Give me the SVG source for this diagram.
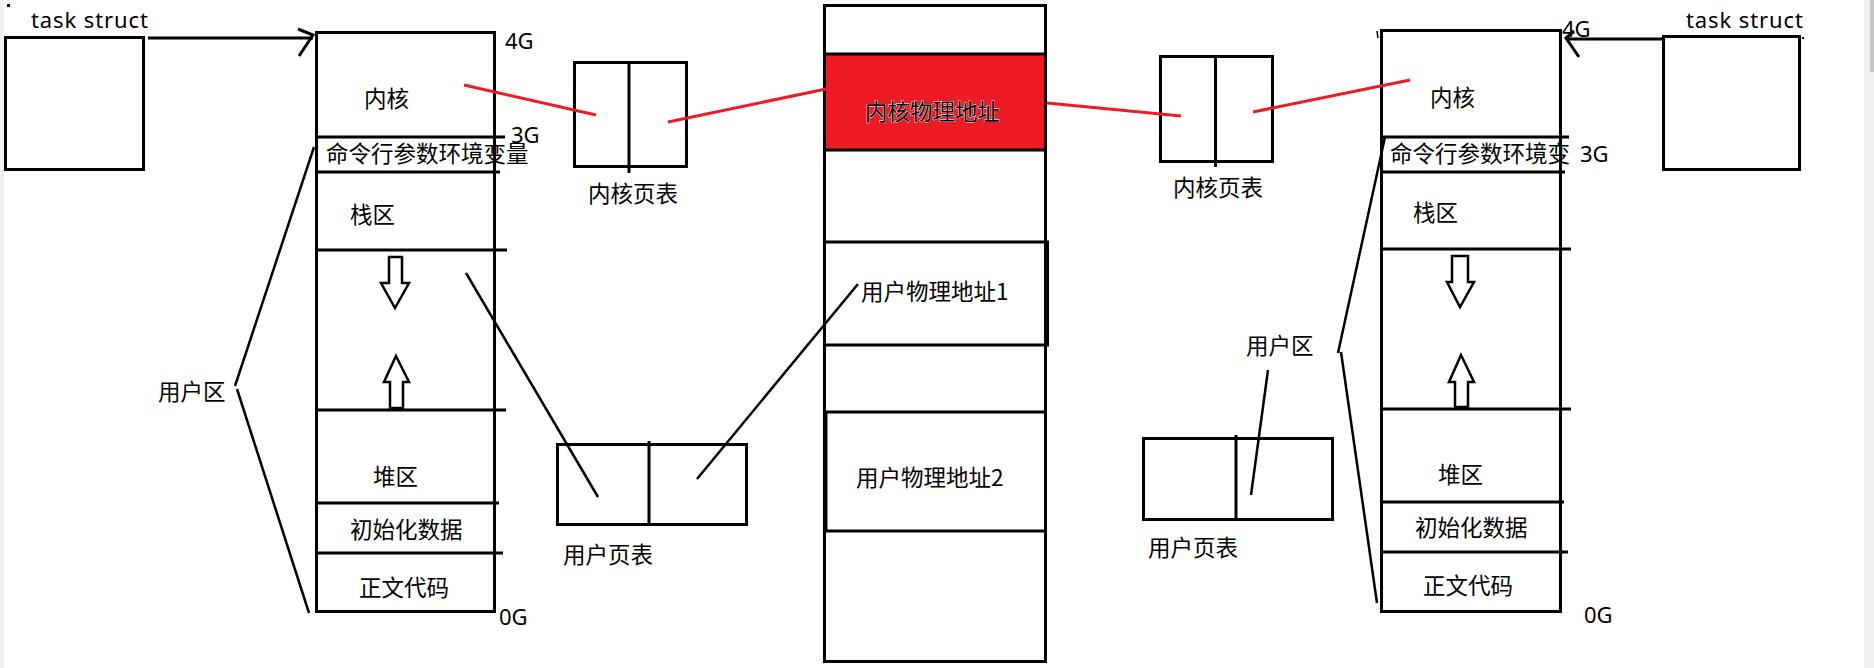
<svg xmlns="http://www.w3.org/2000/svg" width="1874" height="668" viewBox="0 0 1874 668">
<style>
.bx{fill:none;stroke:#000;stroke-width:3}
.ln{stroke:#000;stroke-width:3;fill:none}
.th{stroke:#000;stroke-width:2.5;fill:none}
.rd{stroke:#ED1C24;stroke-width:3;fill:none}
.ar{fill:#fff;stroke:#000;stroke-width:2.5}
.t{font-family:"Noto Sans CJK SC","Noto Sans",sans-serif;font-size:22.5px;fill:#000}
.l{font-family:"Noto Sans","Open Sans",sans-serif;font-size:22px;fill:#000}
</style>
<rect width="1874" height="668" fill="#fff"/>
<rect x="0" y="0" width="4" height="668" fill="#f0f0f0"/>
<rect x="1864" y="0" width="10" height="668" fill="#f0f0f0"/>
<rect x="1870" y="0" width="4" height="72" fill="#c8c8c8"/>
<rect x="7" y="4" width="3" height="3" fill="#000"/>

<g id="task-left">
<rect class="bx" x="5.5" y="37.5" width="138" height="132"/>
<text class="l" x="31" y="28" textLength="117" lengthAdjust="spacing">task struct</text>
</g>

<g id="mem-left">
<rect class="bx" x="316.5" y="32.5" width="178" height="579"/>
<line class="ln" x1="316" y1="137" x2="505" y2="137"/>
<line class="ln" x1="316" y1="172" x2="500" y2="172"/>
<line class="ln" x1="316" y1="250" x2="507" y2="250"/>
<line class="ln" x1="316" y1="410" x2="506" y2="410"/>
<line class="ln" x1="316" y1="503" x2="499" y2="503"/>
<line class="ln" x1="316" y1="553" x2="503" y2="553"/>
<polygon class="ar" points="389,257 402,257 402,283 409,283 395,308 381,283 389,283"/>
<polygon class="ar" points="396,356 409,382 403,382 403,408 390,408 390,382 384,382"/>
<text class="l" x="505" y="49">4G</text>
<text class="l" x="511" y="143">3G</text>
<text class="l" x="499" y="625">0G</text>
<text class="t" x="364" y="107">内核</text>
<text class="t" x="326" y="162">命令行参数环境变量</text>
<text class="t" x="350" y="223">栈区</text>
<text class="t" x="373" y="485">堆区</text>
<text class="t" x="350" y="538">初始化数据</text>
<text class="t" x="359" y="596">正文代码</text>
<text class="t" x="158" y="400">用户区</text>
</g>

<g id="kpt-left">
<rect class="bx" x="574.5" y="62.5" width="112" height="104"/>
<line class="ln" x1="629" y1="61" x2="629" y2="173"/>
<text class="t" x="588" y="202">内核页表</text>
</g>

<g id="upt-left">
<rect class="bx" x="557.5" y="444.5" width="189" height="80"/>
<line class="ln" x1="649" y1="441" x2="649" y2="526"/>
<text class="t" x="563" y="563">用户页表</text>
</g>

<g id="phys">
<rect x="826" y="55" width="219" height="94" fill="#ED1C24"/>
<rect class="bx" x="824.5" y="5.5" width="221" height="656"/>
<line class="ln" x1="824" y1="54" x2="1046" y2="54"/>
<line class="ln" x1="824" y1="150" x2="1046" y2="150"/>
<line class="ln" x1="824" y1="242" x2="1049" y2="242"/>
<line class="ln" x1="824" y1="345" x2="1049" y2="345"/>
<line class="ln" x1="1047.5" y1="242" x2="1047.5" y2="345"/>
<line class="ln" x1="824" y1="412" x2="1046" y2="412"/>
<line class="ln" x1="824" y1="531" x2="1046" y2="531"/>
<line class="ln" x1="826" y1="412" x2="826" y2="531"/>
<text class="t" x="865" y="120" stroke="#fff" stroke-width="0.8" paint-order="stroke">内核物理地址</text>
<text class="t" x="861" y="300">用户物理地址1</text>
<text class="t" x="856" y="486">用户物理地址2</text>
</g>

<g id="kpt-right">
<rect class="bx" x="1160.5" y="56.5" width="112" height="105"/>
<line class="ln" x1="1215.5" y1="55" x2="1215.5" y2="167"/>
<text class="t" x="1173" y="196">内核页表</text>
</g>

<g id="upt-right">
<rect class="bx" x="1143.5" y="438.5" width="189" height="81"/>
<line class="ln" x1="1236" y1="435" x2="1236" y2="521"/>
<text class="t" x="1148" y="556">用户页表</text>
</g>

<g id="mem-right">
<rect class="bx" x="1381.5" y="30.5" width="179" height="581"/>
<line class="ln" x1="1382" y1="137" x2="1569" y2="137"/>
<line class="ln" x1="1382" y1="172" x2="1565" y2="172"/>
<line class="ln" x1="1382" y1="249" x2="1571" y2="249"/>
<line class="ln" x1="1382" y1="409" x2="1571" y2="409"/>
<line class="ln" x1="1382" y1="502" x2="1564" y2="502"/>
<line class="ln" x1="1382" y1="552" x2="1568" y2="552"/>
<line x1="1377" y1="31" x2="1378" y2="38" stroke="#000" stroke-width="1.5"/>
<polygon class="ar" points="1452,256 1468,256 1468,282 1474,282 1460,307 1447,282 1452,282"/>
<polygon class="ar" points="1461,355 1474,382 1468,382 1468,407 1455,407 1455,382 1449,382"/>
<text class="l" x="1562" y="37">4G</text>
<text class="l" x="1580" y="162">3G</text>
<text class="l" x="1584" y="623">0G</text>
<text class="t" x="1430" y="106">内核</text>
<text class="t" x="1390" y="162">命令行参数环境变</text>
<text class="t" x="1413" y="221">栈区</text>
<text class="t" x="1438" y="483">堆区</text>
<text class="t" x="1415" y="536">初始化数据</text>
<text class="t" x="1423" y="594">正文代码</text>
<text class="t" x="1246" y="354">用户区</text>
</g>

<g id="task-right">
<rect class="bx" x="1663.5" y="36.5" width="136" height="133"/>
<rect x="1802" y="37" width="2" height="2" fill="#000"/>
<text class="l" x="1686" y="28" textLength="117" lengthAdjust="spacing">task struct</text>
</g>

<g id="connectors">
<line class="ln" x1="148" y1="38" x2="313" y2="38"/>
<path class="ln" d="M298,29 L313,35 L299,56"/>
<line class="ln" x1="1665" y1="39" x2="1567" y2="39"/>
<path class="ln" d="M1574,31 L1566,38 L1579,57"/>
<line class="rd" x1="464" y1="85" x2="596" y2="115"/>
<line class="rd" x1="668" y1="122" x2="826" y2="89"/>
<line class="rd" x1="1047" y1="103" x2="1181" y2="116"/>
<line class="rd" x1="1253" y1="112" x2="1410" y2="80"/>
<line class="th" x1="466" y1="273" x2="598" y2="497"/>
<line class="th" x1="858" y1="284" x2="697" y2="479"/>
<line class="th" x1="1268" y1="370" x2="1251" y2="495"/>
<path class="th" d="M314,147 L235,386 M237,389 L309,613"/>
<path class="th" d="M1385,137 L1338,353 M1341,352 L1377,603"/>
</g>
</svg>
